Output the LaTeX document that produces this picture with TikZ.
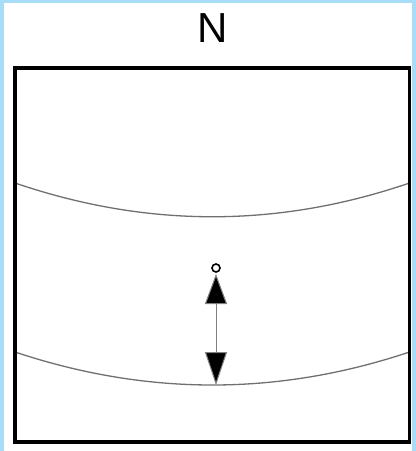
\documentclass[tikz,border=0pt]{standalone}
\usepackage{fontspec}
\setmainfont{Liberation Sans}
\usetikzlibrary{arrows.meta}
\definecolor{frameblue}{HTML}{A8DDF8}
\definecolor{curvegray}{HTML}{707070}
\tikzset{
  curveline/.style={draw=curvegray, line width=1.3pt},
  boxline/.style={draw=black, line width=3.2pt},
  dimline/.style={draw=gray, line width=1pt, {Triangle[length=30pt,width=22pt,fill=black]}-{Triangle[length=33pt,width=22pt,fill=black]}},
}
\begin{document}
\begin{tikzpicture}[x=1pt,y=-1pt]
\useasboundingbox (0,0) rectangle (416,451);
\fill[white] (0,0) rectangle (416,451);
\fill[frameblue] (0,0) rectangle (416,3);
\fill[frameblue] (0,0) rectangle (4,451);
\fill[frameblue] (412,0) rectangle (416,451);
\node[font=\fontsize{42}{42}\selectfont, inner sep=0pt] (n) at (213,28) {N};
\coordinate (c1l) at (15,183);
\coordinate (c1r) at (409.5,183);
\coordinate (c2l) at (15,352);
\coordinate (c2r) at (409.5,352);
\draw[curveline] (c1l) .. controls (147,228) and (278,228) .. (c1r);
\draw[curveline] (c2l) .. controls (147,396) and (278,396) .. (c2r);
\node[boxline, minimum width=394.5pt, minimum height=374pt, inner sep=0pt] (box) at (212.25,255) {};
\node[draw=black, line width=1.6pt, circle, minimum size=8pt, inner sep=0pt, fill=white] (o) at (216,268) {};
\coordinate (top) at (216,274);
\coordinate (bot) at (216,385);
\draw[dimline] (top) -- (bot);
\end{tikzpicture}
\end{document}
